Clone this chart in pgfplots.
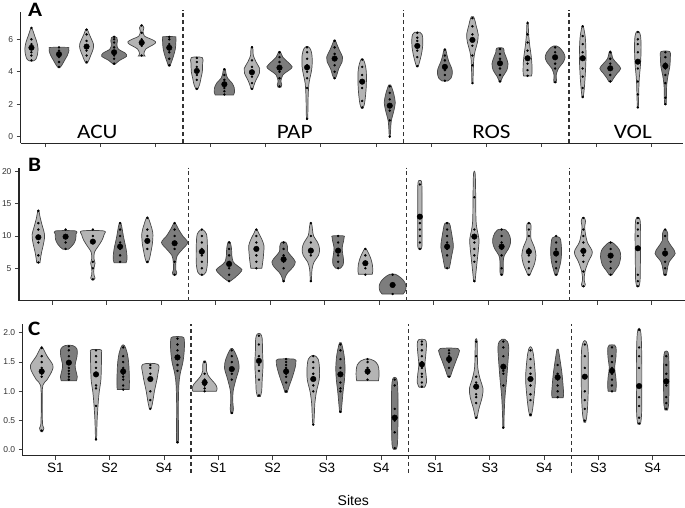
\documentclass[border=0pt]{standalone}
\usepackage{pgfplots}
\pgfplotsset{compat=1.18}
\usepackage{fontspec}
\setmainfont{Liberation Sans}
\newfontfamily\calib{Carlito}
\usepackage{graphicx}
\definecolor{vlight}{RGB}{180,180,180}
\definecolor{vdark}{RGB}{125,125,125}
\definecolor{vline}{RGB}{70,70,70}
\definecolor{tlab}{RGB}{50,50,50}

% #1 x position, #2 fill colour, #3 outline y/halfwidth (bottom to top), #4 mean, #5 observations
\newcommand{\violin}[5]{%
  \gdef\vR{}\gdef\vL{}%
  \foreach \yy/\ww in {#3}{%
    \pgfmathsetmacro\xr{#1+\ww}\pgfmathsetmacro\xl{#1-\ww}%
    \xdef\vR{\vR(\xr,\yy)}\xdef\vL{(\xl,\yy)\vL}%
  }%
  \edef\vtmp{\noexpand\addplot[fill=#2,draw=vline,line width=0.7pt,smooth,tension=0.55] coordinates {\vR\vL} -- cycle;}%
  \vtmp
  \gdef\vD{}%
  \foreach \yy in {#5}{\xdef\vD{\vD(#1,\yy)}}%
  \edef\vtmp{\noexpand\addplot[only marks,mark=*,mark size=1pt,black] coordinates {\vD};}\vtmp
  \edef\vtmp{\noexpand\addplot[only marks,mark=*,mark size=2.8pt,black] coordinates {(#1,#4)};}\vtmp
}

\pgfplotsset{
  vbase/.style={
    scale only axis, anchor=south west, clip=false,
    axis lines=left, axis line style={-, line width=1pt, black!85},
    tick align=outside, major tick length=4pt,
    tick style={line width=0.8pt, black!75},
    xtick={0.5,2.5,4.5,6.5,8.5,10.5,12.5,14.5,16.5,18.5,20.5,22.5},
    /pgf/number format/assume math mode=true,
    yticklabel style={font=\fontsize{8.5}{10}\selectfont, text=tlab},
  },
  divider/.style={line width=1.2pt, black!80, dash pattern=on 4pt off 3pt},
}

\begin{document}
\begin{tikzpicture}
\path[use as bounding box] (0pt,0pt) rectangle (685pt,-507pt);

% ---------------- Panel A ----------------
\begin{axis}[vbase, at={(20.7pt,-143pt)}, width=662.3pt, height=131pt,
  xmin=-0.39, xmax=23.64, ymin=-0.39, ymax=7.68, ytick={0,2,4,6}, xticklabels={}]
\violin{0}{vlight}{4.66/0.05,4.75/0.15,5.0/0.21,5.4/0.24,5.8/0.2,6.2/0.12,6.5/0.06,6.68/0.02}{5.48}{4.7,5.0,5.2,5.5,5.7,6.0,6.7}
\violin{1}{vdark}{4.25/0.03,4.4/0.1,4.7/0.2,5.0/0.3,5.3/0.36,5.45/0.35,5.5/0.3}{5.08}{4.3,4.6,4.9,5.1,5.3,5.5}
\violin{2}{vlight}{4.52/0.02,4.7/0.08,5.0/0.15,5.4/0.24,5.7/0.25,6.0/0.18,6.3/0.1,6.6/0.03}{5.55}{4.6,5.0,5.3,5.6,5.9,6.3,6.6}
\violin{3}{vdark}{4.46/0.03,4.7/0.2,4.95/0.45,5.15/0.4,5.4/0.15,5.7/0.1,5.9/0.12,6.1/0.1,6.16/0.03}{5.2}{4.5,4.8,5.0,5.2,5.5,5.8,6.0,6.15}
\violin{4}{vlight}{4.97/0.12,5.1/0.08,5.4/0.15,5.7/0.45,5.85/0.5,6.0/0.35,6.2/0.1,6.5/0.05,6.7/0.08,6.88/0.02}{5.79}{5.0,5.6,5.8,6.0,6.4,6.85}
\violin{5}{vdark}{4.36/0.03,4.6/0.08,5.0/0.16,5.4/0.22,5.8/0.24,6.1/0.24,6.16/0.2}{5.48}{4.4,4.8,5.2,5.4,5.7,6.0,6.15}
\violin{6}{vlight}{2.92/0.03,3.2/0.1,3.6/0.15,4.0/0.2,4.5/0.21,4.87/0.2}{4.05}{2.95,3.5,3.8,4.1,4.3,4.6,4.85}
\violin{7}{vdark}{2.57/0.33,2.75/0.37,3.0/0.36,3.3/0.28,3.6/0.12,3.9/0.06,4.17/0.03}{3.23}{2.6,2.8,3.0,3.3,3.5,3.8,4.15}
\violin{8}{vlight}{2.92/0.03,3.2/0.08,3.5/0.15,3.9/0.27,4.2/0.28,4.6/0.15,5.0/0.05,5.3/0.04,5.55/0.02}{3.97}{2.95,3.3,3.7,4.0,4.3,4.7,5.5}
\violin{9}{vdark}{3.04/0.05,3.2/0.08,3.4/0.05,3.8/0.12,4.1/0.35,4.3/0.46,4.6/0.3,4.9/0.12,5.24/0.03}{4.25}{3.1,3.6,4.0,4.3,4.6,4.9,5.2}
\violin{10}{vlight}{1.07/0.02,1.5/0.03,2.5/0.04,3.3/0.07,3.8/0.13,4.3/0.18,5.0/0.18,5.4/0.12,5.55/0.03}{4.27}{1.1,3.0,3.6,4.0,4.4,4.8,5.2,5.5}
\violin{11}{vdark}{3.6/0.03,3.8/0.08,4.2/0.15,4.6/0.27,4.9/0.29,5.3/0.18,5.7/0.08,5.96/0.02}{4.81}{3.6,4.0,4.4,4.8,5.1,5.5,5.9}
\violin{12}{vlight}{1.75/0.03,2.0/0.08,2.5/0.12,3.2/0.15,4.0/0.15,4.5/0.1,4.79/0.03}{3.39}{1.8,2.2,3.0,3.4,3.8,4.3,4.75}
\violin{13}{vdark}{0.0/0.02,0.4/0.03,1.0/0.06,1.6/0.15,2.1/0.2,2.6/0.15,3.0/0.08,3.19/0.03}{1.91}{0.0,1.0,1.6,1.9,2.3,2.7,3.1}
\violin{14}{vlight}{4.31/0.03,4.6/0.08,5.0/0.14,5.5/0.19,6.0/0.2,6.3/0.17,6.43/0.1}{5.59}{4.35,4.9,5.3,5.6,5.9,6.1,6.4}
\violin{15}{vdark}{3.43/0.1,3.6/0.22,3.9/0.27,4.2/0.25,4.6/0.15,5.0/0.08,5.38/0.03}{4.3}{3.45,3.8,4.1,4.4,4.7,5.0,5.35}
\violin{16}{vlight}{3.29/0.02,4.0/0.03,4.8/0.05,5.3/0.1,5.8/0.18,6.3/0.21,6.8/0.14,7.1/0.1,7.39/0.04}{5.96}{3.3,4.4,5.0,5.6,6.0,6.3,6.8,7.3}
\violin{17}{vdark}{3.39/0.03,3.7/0.1,4.1/0.25,4.5/0.29,4.9/0.22,5.2/0.15,5.45/0.12}{4.52}{3.4,3.8,4.2,4.5,4.8,5.1,5.4}
\violin{18}{vlight}{3.74/0.14,3.9/0.16,4.4/0.16,5.0/0.13,5.6/0.08,6.3/0.04,6.99/0.02}{4.83}{3.75,4.1,4.5,4.9,5.3,5.8,6.3,7.0}
\violin{19}{vdark}{3.33/0.04,3.5/0.05,3.8/0.04,4.2/0.12,4.6/0.3,4.9/0.36,5.2/0.3,5.5/0.15,5.59/0.05}{4.89}{3.35,4.2,4.5,4.9,5.2,5.5}
\violin{20}{vlight}{2.4/0.02,3.0/0.06,4.0/0.1,5.0/0.12,6.0/0.1,6.5/0.06,6.82/0.02}{4.83}{2.45,3.0,3.7,4.2,4.8,5.2,5.7,6.2,6.8}
\violin{21}{vdark}{3.39/0.05,3.6/0.12,3.9/0.25,4.2/0.38,4.5/0.25,4.8/0.1,5.24/0.03}{4.21}{3.4,3.8,4.2,4.5,4.8,5.2}
\violin{22}{vlight}{1.79/0.02,2.5/0.03,3.5/0.05,4.5/0.1,5.5/0.12,6.2/0.1,6.47/0.04}{4.62}{1.8,2.6,3.4,4.2,4.6,5.2,5.7,6.0,6.45}
\violin{23}{vdark}{2.0/0.03,2.5/0.04,3.2/0.05,3.8/0.1,4.3/0.16,4.9/0.18,5.24/0.16}{4.36}{2.0,2.4,3.3,3.8,4.2,4.5,4.9,5.2}
\addplot[divider] coordinates {(5.5,-0.39) (5.5,7.81)};
\addplot[divider] coordinates {(13.5,-0.39) (13.5,7.81)};
\addplot[divider] coordinates {(19.5,-0.39) (19.5,7.81)};
\node[anchor=base, inner sep=0, font=\calib\fontsize{20.5}{21}\selectfont] at (axis cs:2.39,-0.1) {\scalebox{1.13}[1]{ACU}};
\node[anchor=base, inner sep=0, font=\calib\fontsize{20.5}{21}\selectfont] at (axis cs:9.55,-0.1) {\scalebox{1.13}[1]{PAP}};
\node[anchor=base, inner sep=0, font=\calib\fontsize{20.5}{21}\selectfont] at (axis cs:16.69,-0.1) {\scalebox{1.13}[1]{ROS}};
\node[anchor=base, inner sep=0, font=\calib\fontsize{20.5}{21}\selectfont] at (axis cs:21.82,-0.1) {\scalebox{1.13}[1]{VOL}};
\end{axis}

% ---------------- Panel B ----------------
\begin{axis}[vbase, at={(19pt,-300.7pt)}, width=666pt, height=132.4pt,
  xmin=-0.71, xmax=23.73, ymin=-0.03, ymax=20.5, ytick={5,10,15,20}, xticklabels={}]
\violin{0}{vlight}{5.87/0.06,6.5/0.08,7.5/0.12,9.0/0.2,10.2/0.23,11.5/0.15,12.8/0.07,13.9/0.02}{9.81}{5.9,7,9,10,11,12,13.9}
\violin{1}{vdark}{7.95/0.1,8.3/0.2,8.8/0.3,9.5/0.37,10.3/0.38,10.79/0.37}{9.9}{8,9,10,11}
\violin{2}{vlight}{3.18/0.03,3.5/0.08,4.0/0.04,5.0/0.04,5.8/0.08,6.5/0.04,7.5/0.06,8.3/0.18,9.3/0.33,10.2/0.41,10.79/0.4}{9.13}{3.3,5,6,9,10,11}
\violin{3}{vdark}{5.87/0.22,6.3/0.25,7.0/0.25,8.0/0.22,9.0/0.17,10.0/0.12,11.0/0.08,11.98/0.03}{8.36}{6,7,8,9,10,11,12}
\violin{4}{vlight}{5.87/0.03,6.5/0.08,7.5/0.13,9.0/0.19,10.5/0.2,11.8/0.12,12.86/0.03}{9.24}{6,8,9,10,11,12.8}
\violin{5}{vdark}{3.96/0.05,4.3/0.08,4.8/0.04,6.0/0.05,7.0/0.1,8.0/0.3,9.0/0.48,10.0/0.3,11.0/0.15,11.98/0.03}{8.88}{4,6,8,9,10,11,12}
\violin{6}{vlight}{3.96/0.05,4.4/0.15,5.5/0.2,7.0/0.21,9.0/0.2,10.3/0.17,10.95/0.05}{7.58}{4,5,6,7,8,9,10,11}
\violin{7}{vdark}{3.03/0.05,3.5/0.2,4.3/0.4,4.8/0.47,5.4/0.3,6.0/0.15,7.0/0.1,8.0/0.09,9.04/0.04}{5.67}{3,4,5,6,7,8,9}
\violin{8}{vlight}{5.0/0.2,5.5/0.22,6.5/0.25,7.5/0.27,8.5/0.28,9.5/0.2,10.5/0.08,10.95/0.03}{8.0}{5,6,7,8,9,10,11}
\violin{9}{vdark}{3.03/0.03,3.6/0.06,4.3/0.15,5.2/0.35,6.0/0.43,6.8/0.3,7.6/0.15,8.4/0.14,9.04/0.08}{6.39}{3,5,6,7,8,9}
\violin{10}{vlight}{3.03/0.02,4.0/0.03,5.0/0.05,6.0/0.12,7.0/0.28,8.0/0.32,9.0/0.25,10.0/0.1,11.0/0.06,11.88/0.03}{7.73}{3,7,8,9,10,12}
\violin{11}{vdark}{5.0/0.08,5.5/0.18,6.3/0.2,7.2/0.17,8.2/0.15,9.2/0.2,9.8/0.22,10.02/0.2}{7.73}{5,6,7,8,9,10}
\violin{12}{vlight}{4.07/0.25,4.5/0.27,5.5/0.26,6.5/0.2,7.3/0.12,8.0/0.03}{5.78}{4,5,6,7,8}
\violin{13}{vdark}{1.0/0.38,1.5/0.47,2.3/0.49,3.0/0.42,3.6/0.28,4.07/0.1}{2.41}{1,2.4,4}
\violin{14}{vlight}{8.0/0.05,8.5/0.08,10/0.08,13/0.08,16/0.08,18.2/0.07,18.6/0.03}{13.0}{8,9,10,11,12,13,18}
\violin{15}{vdark}{5.0/0.08,5.8/0.12,7.0/0.17,8.3/0.23,9.5/0.2,11.0/0.14,11.98/0.08}{8.36}{5,7,8,9,10,11,12}
\violin{16}{vlight}{3.03/0.03,4.0/0.05,6.0/0.1,8.0/0.15,9.5/0.17,11.0/0.1,12.5/0.06,16/0.05,19.64/0.03}{9.91}{3,6,7,8,9,10,11,16}
\violin{17}{vdark}{3.96/0.04,4.5/0.06,6.0/0.06,7.0/0.1,8.0/0.25,9.0/0.33,10.0/0.3,10.95/0.15}{8.36}{4,5,7,8,9,10,11}
\violin{18}{vlight}{3.96/0.04,4.6/0.1,5.6/0.2,7.0/0.26,8.3/0.2,9.5/0.08,10.5/0.07,11.5/0.08,11.98/0.05}{7.58}{4,5,6,7,8,10,11,12}
\violin{19}{vdark}{3.96/0.04,4.8/0.1,6.0/0.17,7.5/0.2,9.0/0.18,9.7/0.14,9.91/0.05}{7.32}{4,5,6,7,8,9,10}
\violin{20}{vlight}{2.15/0.04,2.5/0.07,3.2/0.03,4.5/0.06,6.0/0.18,7.5/0.33,9.0/0.15,10.5/0.07,11.5/0.05,12.3/0.08,12.86/0.03}{7.69}{2.2,4.5,6,7,8,9,10,11,12.8}
\violin{21}{vdark}{3.96/0.05,4.6/0.15,5.5/0.3,6.8/0.37,7.8/0.33,8.5/0.2,9.04/0.05}{6.96}{4,5,6,7,8,9}
\violin{22}{vlight}{2.15/0.04,3.0/0.08,5.0/0.09,8.0/0.1,11.0/0.1,12.5/0.08,12.86/0.04}{8.1}{2.2,3,4,8,10,11,12,12.8}
\violin{23}{vdark}{3.96/0.05,4.8/0.08,6.0/0.15,7.3/0.37,8.3/0.25,9.3/0.1,10.3/0.1,10.95/0.04}{7.32}{4,5,6,7,8,10,11}
\addplot[divider] coordinates {(5.5,-0.03) (5.5,20.6)};
\addplot[divider] coordinates {(13.5,-0.03) (13.5,20.6)};
\addplot[divider] coordinates {(19.5,-0.03) (19.5,20.6)};
\end{axis}

% ---------------- Panel C ----------------
\begin{axis}[vbase, at={(22.7pt,-455.7pt)}, width=662.3pt, height=131.7pt,
  xmin=-0.70, xmax=23.69, ymin=-0.1, ymax=2.15, ytick={0,0.5,1,1.5,2},
  yticklabel style={/pgf/number format/.cd, fixed, fixed zerofill, precision=1},
  xticklabels={S1,S2,S4,S1,S2,S3,S4,S1,S3,S4,S3,S4},
  xticklabel style={font=\fontsize{13.5}{14}\selectfont, text=black}]
\violin{0}{vlight}{0.31/0.03,0.37/0.08,0.45/0.03,0.8/0.02,1.1/0.04,1.2/0.2,1.35/0.38,1.45/0.41,1.6/0.2,1.75/0.03}{1.34}{0.33,1.25,1.3,1.35,1.4,1.5,1.6,1.74}
\violin{1}{vdark}{1.18/0.28,1.25/0.31,1.35/0.26,1.45/0.23,1.6/0.3,1.72/0.3,1.78/0.15}{1.49}{1.2,1.25,1.3,1.35,1.4,1.5,1.6,1.7,1.77}
\violin{2}{vlight}{0.17/0.02,0.5/0.04,0.8/0.08,1.0/0.12,1.2/0.18,1.5/0.2,1.65/0.2,1.71/0.18}{1.29}{0.18,0.75,1.05,1.1,1.3,1.4,1.5,1.6,1.7}
\violin{3}{vdark}{1.03/0.22,1.15/0.23,1.35/0.22,1.5/0.2,1.65/0.15,1.78/0.05}{1.34}{1.03,1.1,1.2,1.25,1.3,1.4,1.5,1.6,1.75}
\violin{4}{vlight}{0.71/0.04,0.85/0.1,1.0/0.15,1.15/0.22,1.3/0.28,1.46/0.28}{1.21}{0.7,0.85,1.0,1.2,1.3,1.4,1.45}
\violin{5}{vdark}{0.12/0.03,0.3/0.04,0.7/0.03,1.1/0.05,1.3/0.1,1.5/0.2,1.7/0.25,1.88/0.25,1.93/0.18}{1.58}{0.13,1.35,1.45,1.55,1.6,1.7,1.8,1.9}
\violin{6}{vlight}{1.0/0.43,1.05/0.46,1.12/0.4,1.2/0.25,1.28/0.12,1.35/0.07,1.45/0.07,1.52/0.03}{1.15}{1.0,1.05,1.1,1.15,1.2,1.3,1.5}
\violin{7}{vdark}{0.62/0.03,0.7/0.06,0.8/0.04,1.0/0.05,1.2/0.15,1.4/0.27,1.55/0.22,1.68/0.1,1.73/0.03}{1.38}{0.63,1.2,1.3,1.4,1.5,1.6,1.7}
\violin{8}{vlight}{0.91/0.05,1.0/0.1,1.2/0.12,1.45/0.15,1.7/0.13,1.9/0.12,1.98/0.06}{1.52}{0.93,1.2,1.35,1.45,1.5,1.55,1.6,1.8,1.95}
\violin{9}{vdark}{0.98/0.04,1.1/0.12,1.2/0.2,1.3/0.27,1.42/0.34,1.5/0.36,1.55/0.3}{1.34}{1.0,1.15,1.25,1.3,1.4,1.45,1.5,1.55}
\violin{10}{vlight}{0.43/0.02,0.6/0.04,0.8/0.06,1.0/0.12,1.2/0.22,1.4/0.23,1.55/0.18,1.61/0.05}{1.21}{0.43,1.0,1.1,1.2,1.3,1.4,1.5,1.6}
\violin{11}{vdark}{0.64/0.03,0.8/0.06,1.0/0.1,1.2/0.15,1.4/0.17,1.6/0.14,1.75/0.08,1.83/0.03}{1.29}{0.65,1.0,1.05,1.15,1.3,1.4,1.55,1.7,1.8}
\violin{12}{vlight}{1.18/0.4,1.25/0.42,1.35/0.42,1.45/0.38,1.52/0.25,1.55/0.1}{1.34}{1.2,1.3,1.35,1.4,1.5,1.55}
\violin{13}{vdark}{0.01/0.05,0.1/0.1,0.5/0.12,0.9/0.12,1.15/0.1,1.23/0.05}{0.55}{0.03,0.3,0.5,0.55,0.7,1.1,1.2}
\violin{14}{vlight}{1.07/0.1,1.15/0.17,1.3/0.15,1.45/0.11,1.6/0.14,1.8/0.17,1.88/0.12}{1.46}{1.08,1.15,1.25,1.3,1.4,1.5,1.6,1.7,1.8,1.85}
\violin{15}{vdark}{1.25/0.05,1.35/0.12,1.45/0.2,1.55/0.28,1.65/0.36,1.73/0.33}{1.55}{1.25,1.4,1.5,1.6,1.65,1.7}
\violin{16}{vlight}{0.54/0.03,0.7/0.1,0.9/0.22,1.05/0.25,1.2/0.15,1.4/0.06,1.7/0.04,1.88/0.03}{1.08}{0.55,0.8,0.9,0.95,1.05,1.15,1.25,1.6,1.85}
\violin{17}{vdark}{0.37/0.02,0.6/0.03,0.9/0.06,1.2/0.12,1.5/0.17,1.75/0.2,1.85/0.15,1.89/0.05}{1.42}{0.38,1.1,1.3,1.35,1.45,1.6,1.75,1.85}
\violin{18}{vlight}{0.58/0.03,0.7/0.08,0.9/0.13,1.2/0.18,1.45/0.15,1.65/0.1,1.75/0.04}{1.21}{0.6,0.85,0.95,1.1,1.2,1.3,1.4,1.55,1.7}
\violin{19}{vdark}{0.89/0.2,0.95/0.22,1.1/0.2,1.3/0.16,1.5/0.1,1.65/0.05,1.72/0.02}{1.24}{0.9,1.0,1.1,1.2,1.3,1.45}
\violin{20}{vlight}{0.47/0.03,0.6/0.08,0.9/0.12,1.3/0.13,1.7/0.12,1.85/0.05}{1.25}{0.5,0.7,0.85,1.0,1.25,1.4,1.6,1.8}
\violin{21}{vdark}{1.0/0.14,1.1/0.16,1.25/0.14,1.4/0.1,1.6/0.15,1.75/0.15,1.79/0.1}{1.35}{1.0,1.1,1.2,1.3,1.4,1.5,1.6,1.75}
\violin{22}{vlight}{0.44/0.05,0.6/0.09,1.0/0.1,1.5/0.1,1.9/0.08,2.06/0.04}{1.09}{0.45,0.55,0.75,0.9,1.1,1.4,1.6,1.75,2.05}
\violin{23}{vdark}{0.68/0.05,0.8/0.09,1.1/0.1,1.4/0.1,1.6/0.09,1.68/0.05}{1.17}{0.7,0.8,0.9,1.1,1.2,1.3,1.45,1.6}
\addplot[divider] coordinates {(5.5,-0.39) (5.5,2.15)};
\addplot[divider] coordinates {(13.5,-0.39) (13.5,2.15)};
\addplot[divider] coordinates {(19.5,-0.39) (19.5,2.15)};
\end{axis}

% panel letters and axis title
\node[anchor=base west, inner sep=0, font=\calib\bfseries\fontsize{20.5}{21}\selectfont] at (28pt,-16.7pt) {\scalebox{1.13}[1]{A}};
\node[anchor=base west, inner sep=0, font=\calib\bfseries\fontsize{20.5}{21}\selectfont] at (28pt,-171.7pt) {\scalebox{1.13}[1]{B}};
\node[anchor=base west, inner sep=0, font=\calib\bfseries\fontsize{20.5}{21}\selectfont] at (28pt,-335.7pt) {\scalebox{1.13}[1]{C}};
\node[anchor=base, inner sep=0, font=\fontsize{14}{15}\selectfont] at (353.3pt,-505.5pt) {Sites};
\end{tikzpicture}
\end{document}
